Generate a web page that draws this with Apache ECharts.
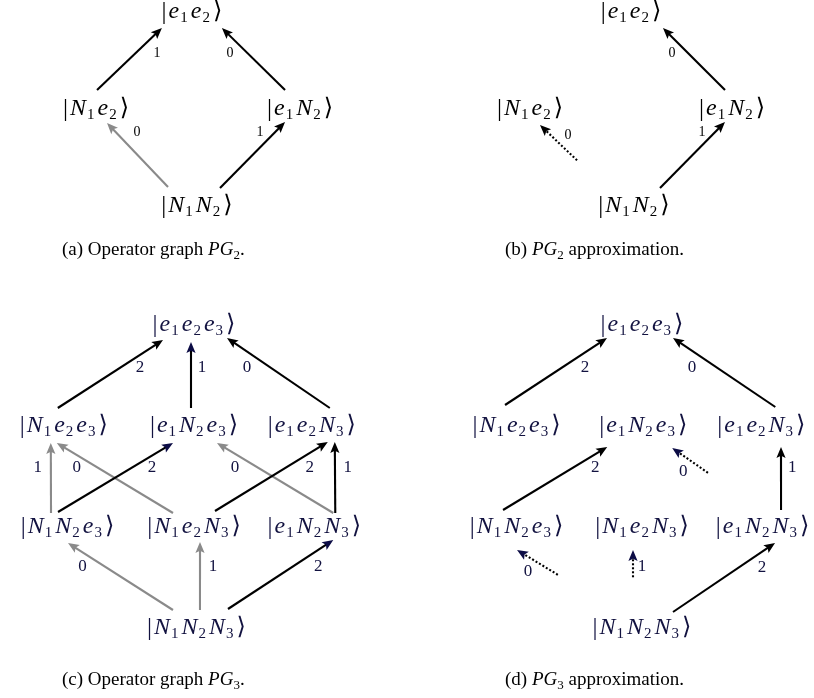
<!DOCTYPE html>
<html>
<head>
<meta charset="utf-8">
<script src="https://cdn.jsdelivr.net/npm/echarts@6/dist/echarts.min.js"></script>
<style>html,body{margin:0;padding:0;background:#fff}#main{width:814px;height:698px}</style>
</head>
<body>
<div id="main"></div>
<script>
// ---- graph data: [state, column, row] and [from, to, weight] ----
const nodesA = [['e1e2', -0.04, 0], ['N1e2', -0.98, 1], ['e1N2', 1.02, 1], ['N1N2', 0.01, 2]]
const edgesA = [['N1e2', 'e1e2', 1], ['e1N2', 'e1e2', 0], ['N1N2', 'N1e2', 0], ['N1N2', 'e1N2', 1]]

const nodesB = [['e1e2', -0.01, 0], ['N1e2', -1.01, 1], ['e1N2', 0.99, 1], ['N1N2', 0.02, 2]]
const edgesB = [['e1N2', 'e1e2', 0], ['N1N2', 'N1e2', 0], ['N1N2', 'e1N2', 1]]

const nodesC = [
	['e1e2e3', 0, 0],
	['N1e2e3', -1.05, 1], ['e1N2e3', 0, 1], ['e1e2N3', 0.95, 1],
	['N1N2e3', -1.02, 2], ['N1e2N3', 0, 2], ['e1N2N3', 0.97, 2],
	['N1N2N3', 0.02, 3]
]
const edgesC = [
	['N1e2e3', 'e1e2e3', 2], ['e1N2e3', 'e1e2e3', 1], ['e1e2N3', 'e1e2e3', 0],
	['N1N2e3', 'N1e2e3', 1], ['N1e2N3', 'N1e2e3', 0], ['N1N2e3', 'e1N2e3', 2],
	['e1N2N3', 'e1N2e3', 0], ['N1e2N3', 'e1e2N3', 2], ['e1N2N3', 'e1e2N3', 1],
	['N1N2N3', 'N1N2e3', 0], ['N1N2N3', 'N1e2N3', 1], ['N1N2N3', 'e1N2N3', 2]
]

const nodesD = [
	['e1e2e3', 0, 0],
	['N1e2e3', -1.02, 1], ['e1N2e3', 0.01, 1], ['e1e2N3', 0.97, 1],
	['N1N2e3', -1.02, 2], ['N1e2N3', 0, 2], ['e1N2N3', 0.98, 2],
	['N1N2N3', 0, 3]
]
const edgesD = [
	['N1e2e3', 'e1e2e3', 2], ['e1e2N3', 'e1e2e3', 0],
	['N1N2e3', 'e1N2e3', 2], ['e1N2N3', 'e1N2e3', 0], ['e1N2N3', 'e1e2N3', 1],
	['N1N2N3', 'N1N2e3', 0], ['N1N2N3', 'N1e2N3', 1], ['N1N2N3', 'e1N2N3', 2]
]

const captions = [
	'(a) Operator graph {i|PG}{s|2}.',
	'(b) {i|PG}{s|2} approximation.',
	'(c) Operator graph {i|PG}{s|3}.',
	'(d) {i|PG}{s|3} approximation.'
]

// ---- drawing: anchors (px nudges from node centres), line kind k: solid / grey / dotted ----
const SERIF = '"Liberation Serif", "DejaVu Serif", serif'
const NAVY = '#121240'

const panels = [
	{ nodes: nodesA, edges: edgesA, ink: '#000', labSize: 14,
		grid: { left: 63.4, top: 2.3, width: 265.2, height: 213.4 }, x: [-1.3, 1.3], y: [-0.1, 2.1],
		cap: { left: 62, top: 238 },
		look: [
			{ s: [1, -19], e: [-30, 16], l: [-35, 41], k: 'k' },
			{ s: [-15, -19], e: [30, 16], l: [38, 41], k: 'k' },
			{ s: [-29, -19], e: [11, 14], l: [41, 23], k: 'g' },
			{ s: [23, -18], e: [-15, 13], l: [-40, 23], k: 'k' }
		] },
	{ nodes: nodesB, edges: edgesB, ink: '#000', labSize: 14,
		grid: { left: 500.7, top: 2.3, width: 262.6, height: 213.4 }, x: [-1.3, 1.3], y: [-0.1, 2.1],
		cap: { left: 505, top: 238 },
		look: [
			{ s: [-7, -19], e: [32, 16], l: [41, 41], k: 'k' },
			{ s: [-29, -19], e: [10, 16], l: [38, 26], k: 'd', t0: 0.43 },
			{ s: [26, -18], e: [-7, 13], l: [-30, 23], k: 'k' }
		] },
	{ nodes: nodesC, edges: edgesC, ink: NAVY, labSize: 17,
		grid: { left: 32.8, top: 314.9, width: 322.4, height: 323.2 }, x: [-1.3, 1.3], y: [-0.1, 3.1],
		cap: { left: 62, top: 668 },
		look: [
			{ s: [-6, -18], e: [-31, 15], l: [-54, 43], k: 'k' },
			{ s: [-3, -18], e: [-3, 17], l: [8, 43], k: 'k', h: 'n' },
			{ s: [18, -18], e: [33, 13], l: [53, 43], k: 'k' },
			{ s: [-16.5, -14], e: [-13, 17], l: [-26, 42], k: 'g' },
			{ s: [-21, -14], e: [-7, 17], l: [13, 42], k: 'g' },
			{ s: [-9.5, -15], e: [-21, 17], l: [-42, 42], k: 'k', h: 'n' },
			{ s: [19, -14], e: [23, 17], l: [41, 42], k: 'g' },
			{ s: [21, -16], e: [16, 16], l: [-2, 42], k: 'k' },
			{ s: [21, -14], e: [23, 16], l: [36, 42], k: 'k' },
			{ s: [-23.5, -18], e: [0.5, 16], l: [15, 40], k: 'g' },
			{ s: [3.5, -18], e: [6, 15], l: [19, 40], k: 'g' },
			{ s: [31.5, -19], e: [19, 13], l: [4, 40], k: 'k', h: 'n' }
		] },
	{ nodes: nodesD, edges: edgesD, ink: NAVY, labSize: 17,
		grid: { left: 482.1, top: 314.9, width: 319.8, height: 323.2 }, x: [-1.3, 1.3], y: [-0.1, 3.1],
		cap: { left: 505, top: 668 },
		look: [
			{ s: [-11.5, -21], e: [-35, 13], l: [-57, 43], k: 'k' },
			{ s: [14, -19], e: [31, 13], l: [50, 43], k: 'k' },
			{ s: [-13.5, -17], e: [-36, 21], l: [-48, 42], k: 'k' },
			{ s: [-1, -17], e: [29, 22], l: [40, 46], k: 'd', t0: 0.6, h: 'n' },
			{ s: [18.5, -17], e: [19.7, 21], l: [31, 42], k: 'k' },
			{ s: [-23, -16], e: [0.5, 23], l: [11.5, 45], k: 'd', t0: 0.6, h: 'n' },
			{ s: [-9, -16], e: [-9, 23], l: [0, 40], k: 'd', t0: 0.56, h: 'n' },
			{ s: [31, -16], e: [12.5, 16], l: [-0.5, 41], k: 'k' }
		] }
]

// |N1e2> -> rich text with italic letters and subscript digits
function ket(name) {
	let s = '{b||}'
	for (const m of name.matchAll(/([A-Za-z])(\d)/g)) s += '{m|' + m[1] + '}{s|' + m[2] + '}'
	return s + '{k|⟩}'
}

function edgeRender(p) {
	return function (params, api) {
		const o = p.look[params.dataIndex]
		const a = api.coord([api.value(0), api.value(1)])
		const b = api.coord([api.value(2), api.value(3)])
		let x1 = a[0] + o.s[0], y1 = a[1] + o.s[1]
		const x2 = b[0] + o.e[0], y2 = b[1] + o.e[1]
		const dx = x2 - x1, dy = y2 - y1, len = Math.hypot(dx, dy)
		const ux = dx / len, uy = dy / len
		if (o.t0) { x1 += dx * o.t0; y1 += dy * o.t0 }
		const H = 11, W = 4.6
		const bx = x2 - ux * H, by = y2 - uy * H
		const stroke = o.k === 'g' ? '#8a8a8a' : '#000'
		const head = o.h === 'n' ? '#0c0c45' : stroke
		return {
			type: 'group',
			children: [
				{ type: 'line', shape: { x1: x1, y1: y1, x2: x2 - ux * H * 0.6, y2: y2 - uy * H * 0.6 },
					style: { stroke: stroke, lineWidth: 2.1, lineDash: o.k === 'd' ? [2, 2] : null } },
				{ type: 'polygon', shape: { points: [[x2, y2], [bx - uy * W, by + ux * W], [x2 - ux * H * 0.8, y2 - uy * H * 0.8], [bx + uy * W, by - ux * W]] },
					style: { fill: head } },
				{ type: 'text', x: b[0] + o.l[0], y: b[1] + o.l[1],
					style: { text: String(api.value(4)), fill: p.ink, fontFamily: SERIF, fontSize: p.labSize, align: 'center', verticalAlign: 'middle' } }
			]
		}
	}
}

function nodeRender(p) {
	const rich = {
		b: { fontFamily: SERIF, fontSize: 25, lineHeight: 28, fill: p.ink, padding: [0, 1, 0, 0] },
		k: { fontFamily: SERIF, fontSize: 24, lineHeight: 28, fill: p.ink, padding: [0, 0, 0, 1] },
		m: { fontFamily: SERIF, fontStyle: 'italic', fontSize: 24, lineHeight: 28, fill: p.ink, padding: [0, 1, 0, 1] },
		s: { fontFamily: SERIF, fontSize: 15, lineHeight: 16, verticalAlign: 'bottom', fill: p.ink, padding: [0, 2, 0, 0] }
	}
	return function (params, api) {
		const c = api.coord([api.value(0), api.value(1)])
		return {
			type: 'text', x: c[0], y: c[1],
			style: { text: ket(p.nodes[params.dataIndex][0]), rich: rich, fill: p.ink, fontFamily: SERIF, fontSize: 24, align: 'center', verticalAlign: 'middle' }
		}
	}
}

const option = { animation: false, grid: [], xAxis: [], yAxis: [], series: [], title: [] }

panels.forEach((p, i) => {
	const pos = {}
	p.nodes.forEach(n => { pos[n[0]] = [n[1], n[2]] })
	option.grid.push(p.grid)
	option.xAxis.push({ type: 'value', gridIndex: i, min: p.x[0], max: p.x[1], show: false })
	option.yAxis.push({ type: 'value', gridIndex: i, min: p.y[0], max: p.y[1], inverse: true, show: false })
	option.series.push({
		type: 'custom', xAxisIndex: i, yAxisIndex: i, clip: false,
		encode: { x: [0, 2], y: [1, 3] },
		renderItem: edgeRender(p),
		data: p.edges.map(e => [pos[e[0]][0], pos[e[0]][1], pos[e[1]][0], pos[e[1]][1], e[2]])
	})
	option.series.push({
		type: 'custom', xAxisIndex: i, yAxisIndex: i, clip: false,
		encode: { x: 0, y: 1 },
		renderItem: nodeRender(p),
		data: p.nodes.map(n => ({ name: n[0], value: [n[1], n[2]] }))
	})
	option.title.push({
		text: captions[i], left: p.cap.left, top: p.cap.top, padding: 0,
		textStyle: {
			fontFamily: SERIF, fontSize: 19, fontWeight: 'normal', color: '#000', lineHeight: 24,
			rich: {
				i: { fontFamily: SERIF, fontStyle: 'italic', fontSize: 19, lineHeight: 24, color: '#000' },
				s: { fontFamily: SERIF, fontSize: 13, lineHeight: 14, verticalAlign: 'bottom', color: '#000' }
			}
		}
	})
})

const chart = echarts.init(document.getElementById('main'))
chart.setOption(option)
window.onresize = () => chart.resize()
</script>
</body>
</html>
